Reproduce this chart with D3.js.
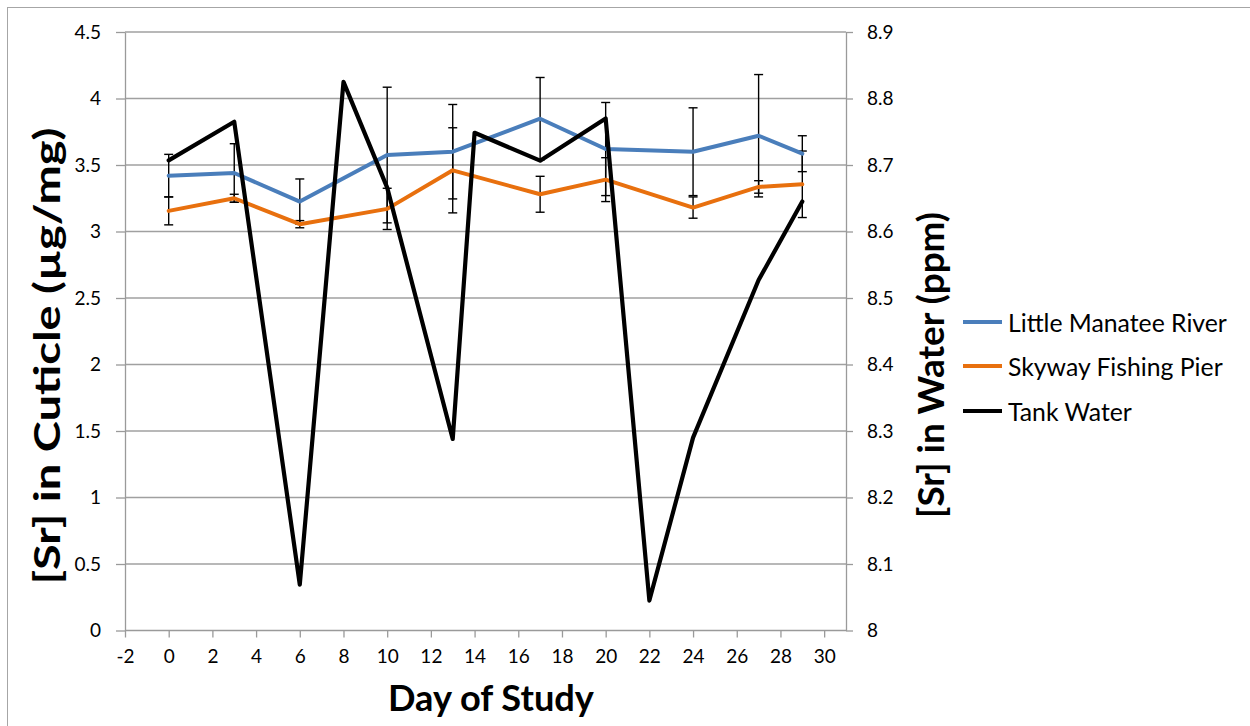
<!DOCTYPE html>
<html>
<head>
<meta charset="utf-8">
<script src="https://cdn.jsdelivr.net/npm/d3@7"></script>
<style>
html,body{margin:0;padding:0;background:#fff;}
svg{display:block;font-family:Lato, "Open Sans", sans-serif;}
</style>
</head>
<body>
<svg id="chart" width="1250" height="726"></svg>
<script>
// ---- data ----
const days = [0, 3, 6, 10, 13, 17, 20, 24, 27, 29];
const littleManatee = [3.42, 3.44, 3.225, 3.575, 3.60, 3.848, 3.62, 3.60, 3.72, 3.585];
const littleManateeErr = [0.16, 0.22, 0.17, 0.51, 0.355, 0.31, 0.35, 0.33, 0.46, 0.135];
const skyway = [3.155, 3.25, 3.055, 3.17, 3.46, 3.28, 3.39, 3.18, 3.335, 3.355];
const skywayErr = [0.105, 0.03, 0.027, 0.155, 0.32, 0.135, 0.165, 0.08, 0.047, 0.25];
const tankDays = [0, 3, 6, 8, 10, 13, 14, 17, 20, 22, 24, 27, 29];
const tankWater = [8.707, 8.765, 8.069, 8.825, 8.666, 8.288, 8.7485, 8.7065, 8.77, 8.045, 8.29, 8.527, 8.645];
const xTicks = [-2, 0, 2, 4, 6, 8, 10, 12, 14, 16, 18, 20, 22, 24, 26, 28, 30];
const leftTicks = [0, 0.5, 1, 1.5, 2, 2.5, 3, 3.5, 4, 4.5];
const rightTicks = [8, 8.1, 8.2, 8.3, 8.4, 8.5, 8.6, 8.7, 8.8, 8.9];
const seriesNames = ["Little Manatee River", "Skyway Fishing Pier", "Tank Water"];
const xTitle = "Day of Study";
const leftTitle = "[Sr] in Cuticle (µg/mg)";
const rightTitle = "[Sr] in Water (ppm)";

// ---- layout ----
const colors = ["#4a7ebb", "#e8700e", "#000000"];
const plot = {left: 125, right: 846, top: 32, bottom: 630.5};
const svg = d3.select("#chart");

const x = d3.scaleLinear().domain([-2, 31]).range([plot.left, plot.right]);
const yL = d3.scaleLinear().domain([0, 4.5]).range([plot.bottom, plot.top]);
const yR = d3.scaleLinear().domain([8, 8.9]).range([plot.bottom, plot.top]);

// outer border
svg.append("rect").attr("x", 7.5).attr("y", 7.5).attr("width", 1300).attr("height", 800)
  .attr("fill", "none").attr("stroke", "#a6a6a6").attr("stroke-width", 1);

// gridlines
svg.append("g").selectAll("line").data(leftTicks.filter(d => d > 0)).join("line")
  .attr("x1", plot.left).attr("x2", plot.right)
  .attr("y1", d => yL(d)).attr("y2", d => yL(d))
  .attr("stroke", "#a0a0a0").attr("stroke-width", 1.3);

const fmt = d => String(+d.toFixed(2));
function styleAxis(g) {
  g.select(".domain").attr("stroke", "#9a9a9a").attr("stroke-width", 1.3);
  g.selectAll(".tick line").attr("stroke", "#9a9a9a").attr("stroke-width", 1.3);
  g.selectAll(".tick text").attr("fill", "#000").style("font-size", "19px").style("font-family", "Lato");
}

// axes
const gx = svg.append("g").attr("transform", `translate(0,${plot.bottom})`)
  .call(d3.axisBottom(x).tickValues(xTicks).tickFormat(fmt).tickSize(7).tickSizeOuter(0).tickPadding(12));
styleAxis(gx);
gx.select(".domain").attr("d", `M${plot.left},0H${plot.right}`);

const gl = svg.append("g").attr("transform", `translate(${plot.left},0)`)
  .call(d3.axisLeft(yL).tickValues(leftTicks).tickFormat(fmt).tickSize(9).tickSizeOuter(0).tickPadding(15));
styleAxis(gl);

const gr = svg.append("g").attr("transform", `translate(${plot.right},0)`)
  .call(d3.axisRight(yR).tickValues(rightTicks).tickFormat(fmt).tickSize(7).tickSizeOuter(0).tickPadding(14));
styleAxis(gr);

// error bars
function errorBars(vals, errs) {
  const g = svg.append("g").attr("stroke", "#000").attr("stroke-width", 1.4);
  days.forEach((d, i) => {
    const cx = x(d), y1 = yL(vals[i] + errs[i]), y2 = yL(vals[i] - errs[i]);
    g.append("line").attr("x1", cx).attr("x2", cx).attr("y1", y1).attr("y2", y2);
    g.append("line").attr("x1", cx - 4.5).attr("x2", cx + 4.5).attr("y1", y1).attr("y2", y1);
    g.append("line").attr("x1", cx - 4.5).attr("x2", cx + 4.5).attr("y1", y2).attr("y2", y2);
  });
}
errorBars(littleManatee, littleManateeErr);
errorBars(skyway, skywayErr);

// lines
const lineL = d3.line().x(d => x(d[0])).y(d => yL(d[1]));
const lineR = d3.line().x(d => x(d[0])).y(d => yR(d[1]));
svg.append("path").datum(days.map((d, i) => [d, littleManatee[i]])).attr("d", lineL)
  .attr("fill", "none").attr("stroke", colors[0]).attr("stroke-width", 4).attr("stroke-linejoin", "round").attr("stroke-linecap", "round");
svg.append("path").datum(days.map((d, i) => [d, skyway[i]])).attr("d", lineL)
  .attr("fill", "none").attr("stroke", colors[1]).attr("stroke-width", 4).attr("stroke-linejoin", "round").attr("stroke-linecap", "round");
svg.append("path").datum(tankDays.map((d, i) => [d, tankWater[i]])).attr("d", lineR)
  .attr("fill", "none").attr("stroke", colors[2]).attr("stroke-width", 4.2).attr("stroke-linejoin", "round").attr("stroke-linecap", "round");

// text fitting helper
function fit(t, target) {
  t.style("font-size", "100px");
  const len = t.node().getComputedTextLength();
  t.style("font-size", (100 * target / len) + "px");
}

// axis titles
const tX = svg.append("text").text(xTitle).attr("x", 491).attr("y", 697)
  .attr("text-anchor", "middle").attr("dominant-baseline", "central")
  .style("font-weight", "bold").style("font-family", "Lato");
fit(tX, 206);
const titleSize = tX.style("font-size");

svg.append("text").text(leftTitle).attr("transform", "translate(46,356) rotate(-90)")
  .attr("text-anchor", "middle").attr("dominant-baseline", "central")
  .attr("textLength", 457).attr("lengthAdjust", "spacingAndGlyphs")
  .style("font-weight", "bold").style("font-family", "Lato").style("font-size", titleSize);

svg.append("text").text(rightTitle).attr("transform", "translate(930,365) rotate(-90)")
  .attr("text-anchor", "middle").attr("dominant-baseline", "central")
  .attr("textLength", 306).attr("lengthAdjust", "spacingAndGlyphs")
  .style("font-weight", "bold").style("font-family", "Lato").style("font-size", titleSize);

// legend
const legRows = [322, 366, 411];
const leg = svg.append("g");
seriesNames.forEach((name, i) => {
  leg.append("line").attr("x1", 963).attr("x2", 1002).attr("y1", legRows[i]).attr("y2", legRows[i])
    .attr("stroke", colors[i]).attr("stroke-width", 4);
});
const legTexts = leg.selectAll("text").data(seriesNames).join("text")
  .text(d => d).attr("x", 1008).attr("y", (d, i) => legRows[i])
  .attr("dominant-baseline", "central").style("font-family", "Lato").attr("fill", "#000");
const first = legTexts.filter((d, i) => i === 0);
fit(first, 219);
legTexts.style("font-size", first.style("font-size"));
</script>
</body>
</html>
